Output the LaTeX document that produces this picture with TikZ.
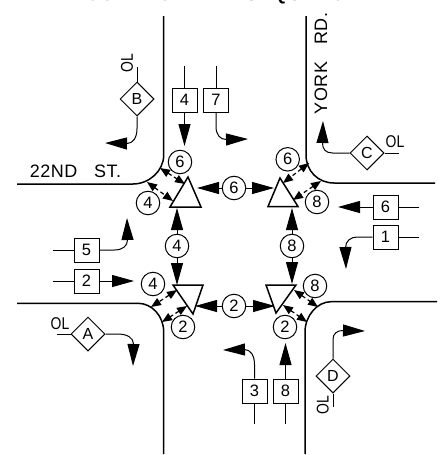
\documentclass[tikz,border=0pt]{standalone}
\usepackage{fontspec}
\setmainfont{Liberation Sans}
\newfontfamily\streetfont[LetterSpace=3,WordSpace=3]{Liberation Sans}
\newfontfamily\titlefont[LetterSpace=9,WordSpace=3]{Liberation Sans Bold}
\newfontfamily\olfont[FakeStretch=0.82]{Liberation Sans}
\usetikzlibrary{arrows.meta}
\usetikzlibrary{shapes.geometric}

\begin{document}
\begin{tikzpicture}[x=1pt,y=-1pt]
	\tikzstyle{curb}=[line width=1.5pt]
	\tikzstyle{signal}=[line width=1.5pt,draw,fill=white,line join=miter]
	\tikzstyle{phase}=[circle,draw,line width=1pt,minimum size=23.5pt,inner sep=0pt,font=\fontsize{16.5}{16.5}\selectfont]
	\tikzstyle{head}=[rectangle,draw,line width=1pt,minimum width=25pt,minimum height=24pt,inner sep=0pt,font=\fontsize{16.5}{16.5}\selectfont]
	\tikzstyle{overlap}=[diamond,draw,line width=1pt,minimum size=34pt,inner sep=0pt,font=\fontsize{16}{16}\selectfont]
	\tikzstyle{street}=[anchor=base,inner sep=0pt,font=\fontsize{18}{18}\streetfont]
	\tikzstyle{heading}=[anchor=base,inner sep=0pt,font=\fontsize{18}{18}\titlefont]
	\tikzstyle{ol}=[inner sep=0pt,font=\fontsize{17}{17}\olfont]
	\tikzstyle{stub}=[line width=1pt]
	\tikzstyle{move}=[line width=1pt,-{Triangle[length=22pt,width=12pt]}]
	\tikzstyle{ped}=[line width=1.2pt,dash pattern=on 4pt off 3pt,{Triangle[length=10pt,width=8pt]}-{Triangle[length=10pt,width=8pt]}]
	\useasboundingbox (0,0) rectangle (441,455);
	% curbs
	\draw[curb] (163.7,16) -- (163.7,155) .. controls (163.7,171) and (149,184) .. (133,184) -- (17,184);
	\draw[curb] (306,16) -- (306,155) .. controls (306,171) and (318,183) .. (334,183) -- (435,183);
	\draw[curb] (17,303.3) -- (138,303.3) .. controls (152,303.3) and (163.7,316) .. (163.7,332) -- (163.7,454);
	\draw[curb] (437,301.7) -- (331,301.7) .. controls (317,301.7) and (305,316) .. (305,332) -- (305,454);
	% texts
	\node[heading] (title) at (222,1){CONTROLLER SEQUENCE};
	\node[street] (street) at (75.5,177){22ND ST.};
	\node[street,rotate=90] (york) at (327,63.5){YORK RD.};
	% phase circles
	\node[phase] (nwSix) at (180,162){6};
	\node[phase] (nwFour) at (148,203){4};
	\node[phase] (neSix) at (287.7,159.3){6};
	\node[phase] (neEight) at (317,202){8};
	\node[phase] (swFour) at (153,284){4};
	\node[phase] (swTwo) at (183,327){2};
	\node[phase] (seEight) at (315,286){8};
	\node[phase] (seTwo) at (285,327){2};
	\node[phase] (northSix) at (234,188){6};
	\node[phase] (southTwo) at (234,306){2};
	\node[phase] (westFour) at (177,246){4};
	\node[phase] (eastEight) at (292,246){8};
	% signal boxes
	\node[head] (boxFour) at (184.5,100){4};
	\node[head] (boxSeven) at (216,100){7};
	\node[head] (boxSix) at (385.5,207){6};
	\node[head] (boxOne) at (385.5,237){1};
	\node[head] (boxFive) at (86.5,250){5};
	\node[head] (boxTwo) at (86.5,281){2};
	\node[head] (boxThree) at (254.5,391){3};
	\node[head] (boxEight) at (285.5,391){8};
	% overlaps
	\node[overlap] (olB) at (137,99){B};
	\node[overlap] (olC) at (367,153){C};
	\node[overlap] (olA) at (88,334){A};
	\node[overlap] (olD) at (333,376){D};
	\node[ol,rotate=90] (textB) at (127,63){OL};
	\node[ol] (textC) at (395,142){OL};
	\node[ol] (textA) at (60,324){OL};
	\node[ol,rotate=90] (textD) at (322.7,405){OL};
	% free ends
	\coordinate (endFour) at (184.5,66);
	\coordinate (endSeven) at (216,66);
	\coordinate (endSix) at (419,207);
	\coordinate (endOne) at (419,237);
	\coordinate (endFive) at (53,250);
	\coordinate (endTwo) at (53,281);
	\coordinate (endThree) at (254.5,424);
	\coordinate (endEight) at (285.5,424);
	\coordinate (endB) at (137,67);
	\coordinate (endC) at (399,153);
	\coordinate (endA) at (57,334);
	\coordinate (endD) at (333,407);
	\coordinate (tipFour) at (184.5,146);
	\coordinate (tipSeven) at (248,139);
	\coordinate (tipSix) at (338,207);
	\coordinate (tipOne) at (346,269);
	\coordinate (tipFive) at (127,218);
	\coordinate (tipTwo) at (134,281);
	\coordinate (tipThree) at (223,350);
	\coordinate (tipEight) at (285.5,343);
	\coordinate (tipB) at (105,143);
	\coordinate (tipC) at (323,121);
	\coordinate (tipA) at (133,366);
	\coordinate (tipD) at (365,331);
	\coordinate (tipN) at (197,188);
	\coordinate (tipM) at (274,188);
	\coordinate (tipP) at (195,306);
	\coordinate (tipQ) at (275,306);
	\coordinate (tipR) at (177,208);
	\coordinate (tipS) at (177,285);
	\coordinate (tipT) at (292,208);
	\coordinate (tipU) at (292,284);
	% stubs
	\draw[stub] (boxFour) -- (endFour);
	\draw[stub] (boxSeven) -- (endSeven);
	\draw[stub] (boxSix) -- (endSix);
	\draw[stub] (boxOne) -- (endOne);
	\draw[stub] (boxFive) -- (endFive);
	\draw[stub] (boxTwo) -- (endTwo);
	\draw[stub] (boxThree) -- (endThree);
	\draw[stub] (boxEight) -- (endEight);
	\draw[stub] (olB) -- (endB);
	\draw[stub] (olC) -- (endC);
	\draw[stub] (olA) -- (endA);
	\draw[stub] (olD) -- (endD);
	% movements
	\draw[move] (boxFour) -- (tipFour);
	\draw[move] (boxSix) -- (tipSix);
	\draw[move] (boxTwo) -- (tipTwo);
	\draw[move] (boxEight) -- (tipEight);
	\draw[move] (boxSeven.south) -- ++(0,14) .. controls +(0,8) and +(-6,0) .. ++(10,13) -- (tipSeven);
	\draw[move] (boxOne.west) -- ++(-15,0) .. controls +(-7,0) and +(0,-7) .. ++(-12,11) -- (tipOne);
	\draw[move] (boxFive.east) -- ++(15,0) .. controls +(8,0) and +(0,6) .. ++(13,-10) -- (tipFive);
	\draw[move] (boxThree.north) -- ++(0,-14) .. controls +(0,-9) and +(6,0) .. ++(-10,-15) -- (tipThree);
	\draw[move] (olB.south) -- ++(0,12) .. controls +(0,9) and +(6,0) .. ++(-10,15) -- (tipB);
	\draw[move] (olC.west) -- ++(-17,0) .. controls +(-7,0) and +(0,6) .. ++(-10,-10) -- (tipC);
	\draw[move] (olA.east) -- ++(12,0) .. controls +(10,0) and +(0,-6) .. ++(16,10) -- (tipA);
	\draw[move] (olD.north) -- ++(0,-19) .. controls +(0,-6) and +(-6,0) .. ++(10,-9) -- (tipD);
	\draw[move] (northSix) -- (tipN);
	\draw[move] (northSix) -- (tipM);
	\draw[move] (southTwo) -- (tipP);
	\draw[move] (southTwo) -- (tipQ);
	\draw[move] (westFour) -- (tipR);
	\draw[move] (westFour) -- (tipS);
	\draw[move] (eastEight) -- (tipT);
	\draw[move] (eastEight) -- (tipU);
	% pedestrians
	\coordinate (pedA) at (160,168);
	\coordinate (pedB) at (185,184);
	\coordinate (pedC) at (147,182);
	\coordinate (pedD) at (173,201);
	\coordinate (pedE) at (309,163);
	\coordinate (pedF) at (283,183);
	\coordinate (pedG) at (321,181);
	\coordinate (pedH) at (293,200);
	\coordinate (pedI) at (177,290);
	\coordinate (pedJ) at (151,307);
	\coordinate (pedK) at (187,306);
	\coordinate (pedL) at (162,322);
	\coordinate (pedM) at (294,290);
	\coordinate (pedN) at (318,307);
	\coordinate (pedO) at (283,305);
	\coordinate (pedP) at (307,322);
	\draw[ped] (pedA) -- (pedB);
	\draw[ped] (pedC) -- (pedD);
	\draw[ped] (pedE) -- (pedF);
	\draw[ped] (pedG) -- (pedH);
	\draw[ped] (pedI) -- (pedJ);
	\draw[ped] (pedK) -- (pedL);
	\draw[ped] (pedM) -- (pedN);
	\draw[ped] (pedO) -- (pedP);
	% signals
	\draw[signal] (188,177) -- (170,207) -- (201,207) -- cycle;
	\draw[signal] (280,178) -- (268,206.5) -- (298,206.5) -- cycle;
	\draw[signal] (173,285) -- (203,285) -- (193,314) -- cycle;
	\draw[signal] (266,285) -- (296,285) -- (276,313) -- cycle;
\end{tikzpicture}
\end{document}
